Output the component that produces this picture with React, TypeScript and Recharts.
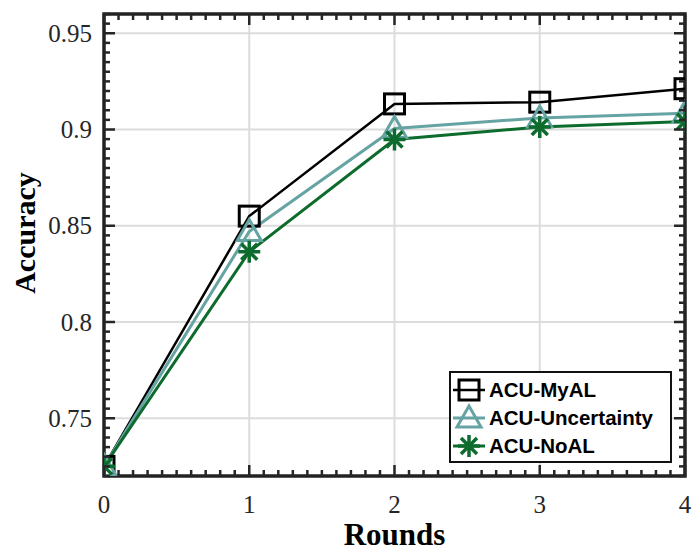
import {
  CartesianGrid,
  Legend,
  Line,
  LineChart,
  ReferenceArea,
  XAxis,
  YAxis,
} from "recharts";

const rounds = [0, 1, 2, 3, 4];
const myAL = [0.725, 0.855, 0.9133, 0.9142, 0.9212];
const uncertainty = [0.725, 0.847, 0.9005, 0.906, 0.9085];
const noAL = [0.725, 0.8365, 0.8948, 0.9013, 0.9042];

const xMajor = [0, 1, 2, 3, 4];
const yMajor = [0.75, 0.8, 0.85, 0.9, 0.95];
const xDomain: [number, number] = [0, 4];
const yDomain: [number, number] = [0.72, 0.96];

const seriesOrder = ["myAL", "uncertainty", "noAL"];

const data = rounds.map((r, i) => ({
  round: r,
  myAL: myAL[i],
  uncertainty: uncertainty[i],
  noAL: noAL[i],
}));

const styles: Record<string, { color: string; width: number; shape: string }> = {
  myAL: { color: "#000000", width: 2.5, shape: "square" },
  uncertainty: { color: "#66a3a3", width: 3, shape: "triangle" },
  noAL: { color: "#0e6b2e", width: 3, shape: "star" },
};

const isMajor = (v: number, majors: number[]) =>
  majors.some((m) => Math.abs(m - v) < 1e-9);

// minor ticks between the majors, for the inside tick marks of the frame
function withMinor(lo: number, hi: number, step: number, majors: number[]) {
  const out = [...majors];
  const n = Math.round((hi - lo) / step);
  for (let i = 0; i <= n; i++) {
    const v = +(lo + i * step).toFixed(4);
    if (!isMajor(v, majors)) out.push(v);
  }
  return out;
}

const xTicks = withMinor(0, 4, 0.1, xMajor);
const yTicks = withMinor(0.72, 0.96, 0.005, yMajor);

const INK = "#262626";
const SERIF = "'Liberation Serif', 'Times New Roman', serif";

function FrameTick(props: any) {
  const { x, y, payload, side, majors } = props;
  const major = isMajor(payload.value, majors);
  const len = major ? 11 : 6;
  let line;
  if (side === "bottom") line = <line x1={x} x2={x} y1={y} y2={y - len} />;
  else if (side === "top") line = <line x1={x} x2={x} y1={y} y2={y + len} />;
  else if (side === "left") line = <line x1={x} x2={x + len} y1={y} y2={y} />;
  else line = <line x1={x} x2={x - len} y1={y} y2={y} />;
  return (
    <g stroke={INK} strokeWidth={2.5}>
      {line}
      {major && side === "bottom" && (
        <text x={x} y={y + 28} textAnchor="middle" dominantBaseline="central"
          fill={INK} stroke="none" fontFamily={SERIF} fontSize={25}>
          {payload.value}
        </text>
      )}
      {major && side === "left" && (
        <text x={x - 12} y={y} textAnchor="end" dominantBaseline="central"
          fill={INK} stroke="none" fontFamily={SERIF} fontSize={25}>
          {payload.value}
        </text>
      )}
    </g>
  );
}

function Marker({ shape, cx, cy, color }: { shape: string; cx: number; cy: number; color: string }) {
  if (shape === "square") {
    return <rect x={cx - 10} y={cy - 10} width={20} height={20} fill="none" stroke={color} strokeWidth={3} />;
  }
  if (shape === "triangle") {
    return (
      <polygon
        points={`${cx},${cy - 12} ${cx - 12},${cy + 9} ${cx + 12},${cy + 9}`}
        fill="none" stroke={color} strokeWidth={3}
      />
    );
  }
  return (
    <g stroke={color} strokeWidth={3.5}>
      <line x1={cx - 11} x2={cx + 11} y1={cy} y2={cy} />
      <line x1={cx} x2={cx} y1={cy - 11} y2={cy + 11} />
      <line x1={cx - 8} x2={cx + 8} y1={cy - 8} y2={cy + 8} />
      <line x1={cx - 8} x2={cx + 8} y1={cy + 8} y2={cy - 8} />
    </g>
  );
}

function dotFor(key: string) {
  return (p: any) => (
    <Marker key={`${key}-${p.index}`} shape={styles[key].shape} cx={p.cx} cy={p.cy} color={styles[key].color} />
  );
}

function LegendBox({ payload }: any) {
  const items = [...(payload || [])].sort(
    (a: any, b: any) => seriesOrder.indexOf(a.dataKey) - seriesOrder.indexOf(b.dataKey)
  );
  return (
    <div style={{ background: "#fff", border: "2.5px solid #111", width: 219, height: 85, paddingTop: 3, boxSizing: "content-box" }}>
      {items.map((entry: any) => {
        const s = styles[entry.dataKey];
        return (
          <div key={entry.dataKey} style={{ display: "flex", alignItems: "center", height: 28 }}>
            <svg width={38} height={28} style={{ overflow: "visible" }}>
              <line x1={2} x2={34} y1={14} y2={14} stroke={s.color} strokeWidth={s.width} />
              <Marker shape={s.shape} cx={18} cy={14} color={s.color} />
            </svg>
            <span style={{ fontFamily: "'Liberation Sans', Arial, sans-serif", fontWeight: 700, fontSize: 20.5, color: "#000" }}>
              {entry.value}
            </span>
          </div>
        );
      })}
    </div>
  );
}

function RoundsLabel({ viewBox }: any) {
  return (
    <text x={viewBox.x + viewBox.width / 2} y={viewBox.y + 58} textAnchor="middle"
      dominantBaseline="central" fontFamily={SERIF} fontWeight={700} fontSize={31} fill="#000">
      Rounds
    </text>
  );
}

function AccuracyLabel({ viewBox }: any) {
  const cx = viewBox.x + viewBox.width - 80;
  const cy = 233;
  return (
    <text x={cx} y={cy} transform={`rotate(-90, ${cx}, ${cy})`} textAnchor="middle"
      dominantBaseline="central" fontFamily={SERIF} fontWeight={700} fontSize={30} fill="#000">
      Accuracy
    </text>
  );
}

export default function App() {
  return (
    <div style={{ position: "absolute", left: 0, top: 0, background: "#fff" }}>
      <LineChart width={692} height={551} data={data} margin={{ top: 13, right: 6, bottom: 74, left: 103 }}>
        <XAxis dataKey="round" type="number" domain={xDomain} ticks={xMajor} allowDataOverflow hide height={0} />
        <YAxis dataKey="myAL" type="number" domain={yDomain} ticks={yMajor} allowDataOverflow hide width={0} />
        <CartesianGrid stroke="#dcdcdc" strokeWidth={2} />

        <XAxis xAxisId="b" dataKey="round" type="number" domain={xDomain} ticks={xTicks} interval={0}
          allowDataOverflow height={1} tickSize={0} tickMargin={0} axisLine={false} tickLine={false}
          tick={(p: any) => <FrameTick {...p} side="bottom" majors={xMajor} />}
          label={{ content: RoundsLabel }} />
        <XAxis xAxisId="t" orientation="top" dataKey="round" type="number" domain={xDomain} ticks={xTicks} interval={0}
          allowDataOverflow height={1} tickSize={0} tickMargin={0} axisLine={false} tickLine={false}
          tick={(p: any) => <FrameTick {...p} side="top" majors={xMajor} />} />
        <YAxis yAxisId="l" dataKey="myAL" type="number" domain={yDomain} ticks={yTicks} interval={0}
          allowDataOverflow width={1} tickSize={0} tickMargin={0} axisLine={false} tickLine={false}
          tick={(p: any) => <FrameTick {...p} side="left" majors={yMajor} />}
          label={{ content: AccuracyLabel }} />
        <YAxis yAxisId="r" orientation="right" dataKey="myAL" type="number" domain={yDomain} ticks={yTicks} interval={0}
          allowDataOverflow width={1} tickSize={0} tickMargin={0} axisLine={false} tickLine={false}
          tick={(p: any) => <FrameTick {...p} side="right" majors={yMajor} />} />

        <ReferenceArea x1={xDomain[0]} x2={xDomain[1]} y1={yDomain[0]} y2={yDomain[1]}
          fill="none" fillOpacity={0} stroke="#222" strokeWidth={3.5} strokeOpacity={1} />

        <Line dataKey="myAL" name="ACU-MyAL" stroke={styles.myAL.color} strokeWidth={styles.myAL.width}
          dot={dotFor("myAL")} isAnimationActive={false} />
        <Line dataKey="uncertainty" name="ACU-Uncertainty" stroke={styles.uncertainty.color}
          strokeWidth={styles.uncertainty.width} dot={dotFor("uncertainty")} isAnimationActive={false} />
        <Line dataKey="noAL" name="ACU-NoAL" stroke={styles.noAL.color} strokeWidth={styles.noAL.width}
          dot={dotFor("noAL")} isAnimationActive={false} />

        <Legend layout="vertical" align="center" verticalAlign="middle" content={LegendBox}
          wrapperStyle={{ left: 449, top: 371, width: 224, height: 91 }} />
      </LineChart>
    </div>
  );
}
